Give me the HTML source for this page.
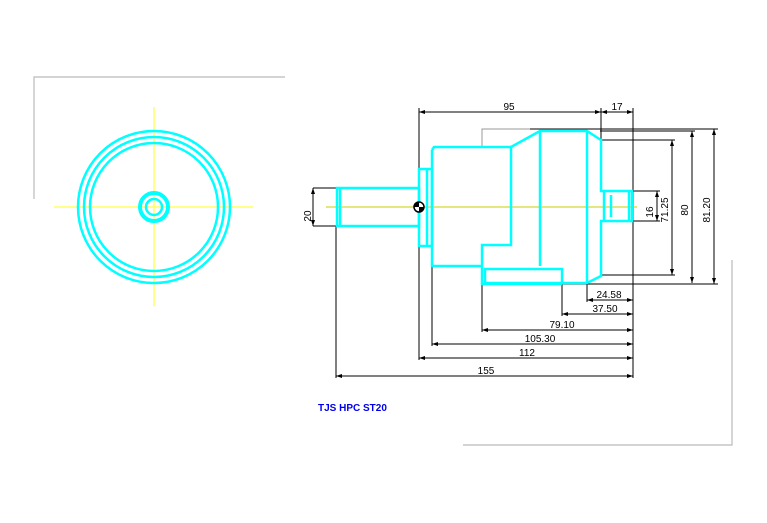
<!DOCTYPE html>
<html><head><style>body{margin:0;background:#fff}svg{display:block}</style></head><body>
<svg width="767" height="523" viewBox="0 0 767 523" xmlns="http://www.w3.org/2000/svg" font-family="Liberation Sans, sans-serif">
<defs>
<marker id="a" viewBox="0 0 6 4" refX="6" refY="2" markerWidth="6" markerHeight="4" orient="auto-start-reverse" markerUnits="userSpaceOnUse"><path d="M0,0 L6,2 L0,4 Z" fill="#000"/></marker>
</defs>
<g stroke="#bbb" stroke-width="1.2" fill="none">
<polyline points="285,77 34,77 34,199"/>
<polyline points="463,445 732,445 732,260"/>
</g>
<g stroke="#ffff44" stroke-width="1.2">
<line x1="54" y1="207" x2="253" y2="207"/><line x1="154" y1="107" x2="154" y2="306"/>
</g>
<g stroke="#00ffff" fill="none" stroke-width="2.5">
<circle cx="154" cy="207" r="76"/><circle cx="154" cy="207" r="70"/><circle cx="154" cy="207" r="64"/>
<circle cx="154" cy="207" r="14" stroke-width="4"/><circle cx="154" cy="207" r="8"/>
</g>
<g stroke="#000" stroke-width="1" fill="none">
<line x1="419" y1="108" x2="419" y2="360"/>
<line x1="633" y1="108" x2="633" y2="378"/>
<line x1="601" y1="108" x2="601" y2="140"/>
<line x1="530" y1="129" x2="718" y2="129"/>
<line x1="600" y1="131" x2="695" y2="131"/>
<line x1="601" y1="140" x2="675" y2="140"/>
<line x1="632" y1="191" x2="660" y2="191"/>
<line x1="632" y1="221" x2="660" y2="221"/>
<line x1="601" y1="275" x2="675" y2="275"/>
<line x1="530" y1="284" x2="718" y2="284"/>
<line x1="313" y1="188" x2="336" y2="188"/><line x1="313" y1="226" x2="336" y2="226"/>
<line x1="336" y1="226" x2="336" y2="378"/>
<line x1="432" y1="266" x2="432" y2="346"/>
<line x1="482" y1="284" x2="482" y2="332"/>
<line x1="562" y1="284" x2="562" y2="316"/>
<line x1="587" y1="284" x2="587" y2="302"/>
</g>
<g stroke="#000" stroke-width="1" fill="none" marker-start="url(#a)" marker-end="url(#a)">
<line x1="419" y1="112" x2="601" y2="112"/>
<line x1="601" y1="112" x2="633" y2="112"/>
<line x1="657" y1="191" x2="657" y2="221"/>
<line x1="672" y1="140" x2="672" y2="275"/>
<line x1="692" y1="131" x2="692" y2="283"/>
<line x1="714" y1="129" x2="714" y2="284"/>
<line x1="313" y1="188" x2="313" y2="226"/>
<line x1="587" y1="300" x2="633" y2="300"/>
<line x1="562" y1="314" x2="633" y2="314"/>
<line x1="482" y1="330" x2="633" y2="330"/>
<line x1="432" y1="344" x2="633" y2="344"/>
<line x1="419" y1="358" x2="633" y2="358"/>
<line x1="336" y1="376" x2="633" y2="376"/>
</g>
<polyline points="482,147 482,129 530,129" stroke="#999" fill="none"/>
<line x1="326" y1="207" x2="637" y2="207" stroke="#cccc00" stroke-width="1"/>
<g stroke="#00ffff" fill="none" stroke-width="2.5" stroke-linejoin="miter">
<rect x="337" y="188" width="82" height="38"/>
<line x1="340" y1="188" x2="340" y2="226"/>
<rect x="419" y="169" width="13" height="77"/>
<line x1="427" y1="169" x2="427" y2="246"/>
<polyline points="432,150 434,147 511,147 540,131 587,131 601,140 601,191 632,191 632,221 601,221 601,276 587,283 562,283"/>
<polyline points="432,150 432,266 482,266"/>
<polyline points="511,147 511,245 482,245 482,284 562,284"/>
<rect x="485" y="269" width="77" height="14"/>
<line x1="540" y1="131" x2="540" y2="266"/>
<line x1="587" y1="131" x2="587" y2="283"/>
<line x1="604" y1="191" x2="604" y2="221"/>
<line x1="611" y1="195" x2="611" y2="217"/>
<line x1="629" y1="191" x2="629" y2="221"/>
</g>
<circle cx="419" cy="207" r="5" fill="#fff" stroke="#000" stroke-width="1.5"/>
<path d="M419 207 L424 207 A5 5 0 0 1 419 212 Z M419 207 L414 207 A5 5 0 0 1 419 202 Z" fill="#000"/>
<g font-size="10" fill="#000" text-anchor="middle">
<text x="509" y="110">95</text><text x="617" y="110">17</text>
<text x="609" y="298">24.58</text><text x="605" y="312">37.50</text>
<text x="562" y="328">79.10</text><text x="540" y="342">105.30</text>
<text x="527" y="356">112</text><text x="486" y="374">155</text>
<text transform="translate(313,216) rotate(-90)" dy="-2">20</text>
<text transform="translate(655,212) rotate(-90)" dy="-2">16</text>
<text transform="translate(670,210) rotate(-90)" dy="-2">71.25</text>
<text transform="translate(690,210) rotate(-90)" dy="-2">80</text>
<text transform="translate(712,210) rotate(-90)" dy="-2">81.20</text>
</g>
<text x="318" y="411" font-size="10" font-weight="bold" fill="#0000ee">TJS HPC ST20</text>
</svg>
</body></html>
